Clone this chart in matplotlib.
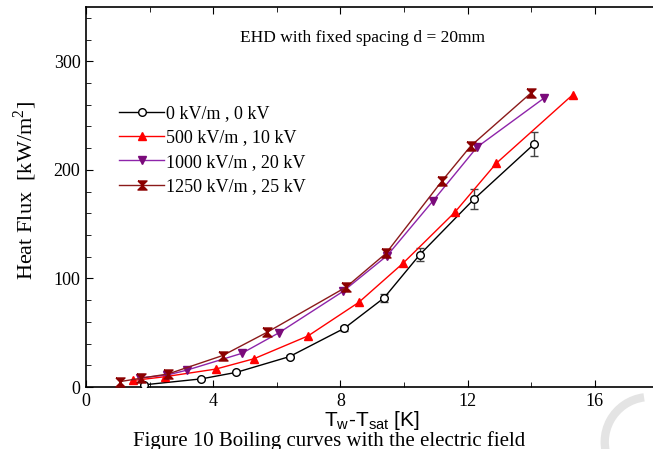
import matplotlib
matplotlib.use('Agg')
import matplotlib.pyplot as plt
from matplotlib.patches import Arc
from matplotlib.ticker import MultipleLocator, FixedLocator

# wall superheat Tw-Tsat [K] and heat flux [kW/m2] for each field strength
x_0kv = [1.83, 3.63, 4.73, 6.4, 8.12, 9.37, 10.5, 12.2, 14.1]
q_0kv = [2, 7.5, 13.5, 28, 54, 82, 122, 173, 224]
err_0kv = [1, 1, 1, 1.5, 2.5, 4, 6, 9, 11]

x_10kv = [1.48, 2.49, 4.08, 5.28, 6.98, 8.58, 9.97, 11.6, 12.9, 15.3]
q_10kv = [6, 9.5, 16.5, 26, 47, 78, 114, 161, 206, 269]

x_20kv = [1.7, 2.55, 3.17, 4.9, 6.07, 8.08, 9.47, 10.9, 12.3, 14.4]
q_20kv = [8.5, 11, 15.5, 31, 50, 88, 121, 171, 221, 266]

x_25kv = [1.07, 1.72, 2.58, 4.3, 5.7, 8.18, 9.43, 11.2, 12.1, 14.0]
q_25kv = [5, 8, 12, 29, 50.5, 92, 123, 190, 222, 271]

labels = ['0 kV/m , 0 kV', '500 kV/m , 10 kV',
          '1000 kV/m , 20 kV', '1250 kV/m , 25 kV']
xticks = [0, 4, 8, 12, 16]

plt.rcParams['font.family'] = 'Liberation Serif'
plt.rcParams['mathtext.fontset'] = 'custom'

W, H = 653, 449
fig = plt.figure(figsize=(W / 100, H / 100), dpi=100)
# axes run off the right edge of the picture, like the cropped original
ax = fig.add_axes([86 / W, 1 - 387 / H, 636 / W, 380 / H])

hourglass = [(-1, 1), (1, 1), (-1, -1), (1, -1), (-1, 1)]

ax.errorbar(x_0kv, q_0kv, yerr=err_0kv, fmt='none', ecolor='#444444',
            elinewidth=1, capsize=3, zorder=2)
h0, = ax.plot(x_0kv, q_0kv, color='black', lw=1, marker='o', ms=5.5,
              mfc='white', mec='black', label=labels[0], zorder=3)
h1, = ax.plot(x_10kv, q_10kv, color='#ff0000', lw=1, marker='^', ms=5.5,
              label=labels[1], zorder=3)
h2, = ax.plot(x_20kv, q_20kv, color='#8e24aa', lw=1, marker='v', ms=5.5,
              mfc='#7a0a7a', mec='#7a0a7a', label=labels[2], zorder=3)
h3, = ax.plot(x_25kv, q_25kv, color='#8b1a1a', lw=1, marker=hourglass, ms=6.5,
              mfc='#8b0000', mec='#8b0000', label=labels[3], zorder=3)

ax.set_xlim(0, 20)
ax.set_ylim(0, 350)
ax.xaxis.set_major_locator(FixedLocator(xticks))
ax.xaxis.set_minor_locator(MultipleLocator(2))
ax.yaxis.set_major_locator(MultipleLocator(100))
ax.yaxis.set_minor_locator(MultipleLocator(20))
ax.tick_params(which='both', direction='in', top=True, labelsize=13, pad=4)
ax.tick_params(which='major', length=5)
ax.tick_params(which='minor', length=3.5)
for s in ax.spines.values():
    s.set_linewidth(1.2)

ax.legend(handles=[h0, h1, h2, h3], loc='upper left',
          bbox_to_anchor=(112 / W, 1 - 98 / H),
          bbox_transform=fig.transFigure, frameon=False, fontsize=13,
          handlelength=2.5, handletextpad=0.1, labelspacing=0.4,
          numpoints=1, borderaxespad=0)

fig.text(240 / W, 1 - 38 / H, 'EHD with fixed spacing d = 20mm',
         fontsize=12.5, va='center', ha='left')
fig.text(25 / W, 1 - 191 / H, r'Heat Flux  [kW/m$^\mathregular{2}$]',
         fontsize=16, rotation=90, va='center', ha='center')
fig.text(372 / W, 1 - 420 / H, r'T$_\mathregular{w}$-T$_\mathregular{sat}$ [K]',
         family='Liberation Sans', fontsize=15, va='center', ha='center')

# caption of the source figure, cut off at the bottom edge
fig.text(133 / W, 1 - 446 / H, 'Figure 10 Boiling curves with the electric field',
         fontsize=15, va='baseline', ha='left')

# faint watermark arc in the corner
arc = Arc((0.995, 1 - 442 / H), 90 / W, 90 / H, theta1=95, theta2=215,
          transform=fig.transFigure, color='#e4e4e4', lw=6, zorder=0)
fig.add_artist(arc)

fig.savefig('out.png', dpi=100)
